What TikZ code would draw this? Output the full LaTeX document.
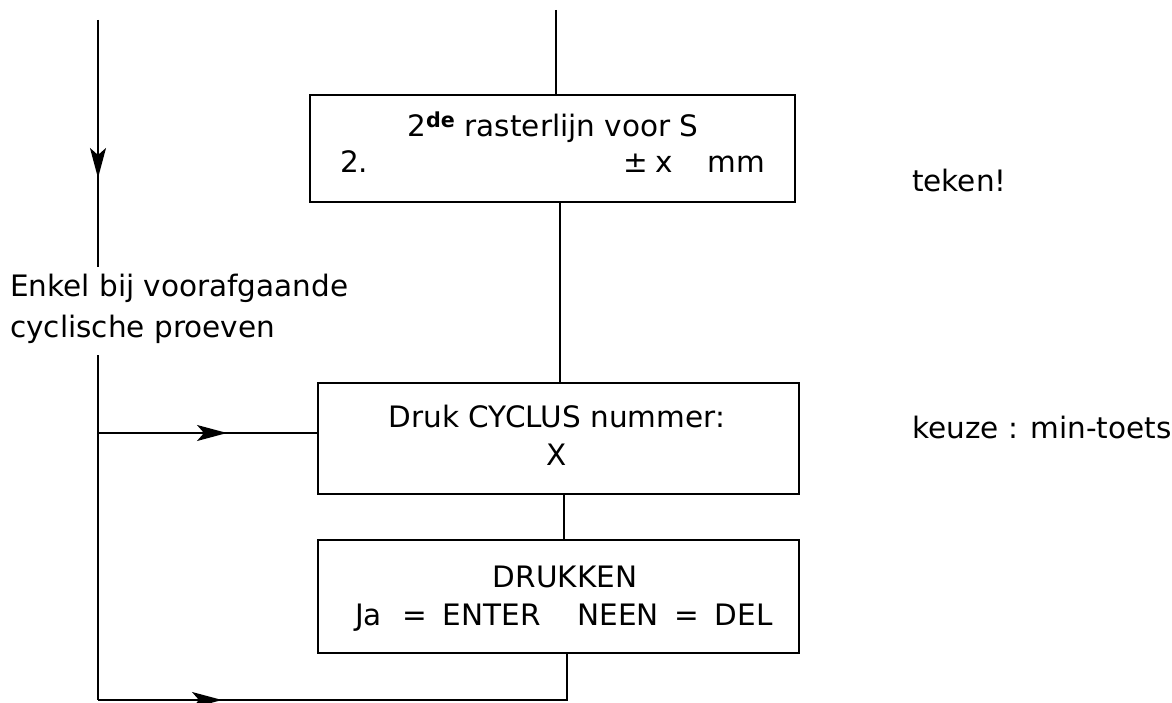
\documentclass[tikz,border=0pt]{standalone}
\usepackage{fontspec}
\setmainfont{DejaVu Sans}
\usetikzlibrary{arrows.meta,decorations.markings}
\begin{document}
\begin{tikzpicture}[x=1pt,y=-1pt,
  box/.style={draw, line width=2pt, inner sep=0pt},
  conn/.style={line width=1.5pt},
  txt/.style={inner sep=0pt, font=\fontsize{29.5}{34}\selectfont},
  midarrow/.style={postaction={decorate,decoration={markings,
      mark=at position #1 with {\arrow{Stealth[length=30pt,width=16pt,inset=7pt]}}}}}
]
\useasboundingbox (0,0) rectangle (1172,703);
\fill[white] (0,0) rectangle (1172,703);

% boxes
\node[box, minimum width=485pt, minimum height=107pt] (b1) at (552.5,148.5) {};
\node[box, minimum width=481pt, minimum height=111pt] (b2) at (558.5,438) {};
\node[box, minimum width=481pt, minimum height=113pt] (b3) at (558.5,596.5) {};

% texts in boxes
\node[txt, anchor=base] (t1a) at (553,137) {2\textsuperscript{\bfseries de} rasterlijn voor S};
\node[txt, anchor=base west] (t1b) at (340,173) {2.};
\node[txt, anchor=base east] (t1c) at (765,173) {±\hspace{8pt}x\hspace{34pt}mm};
\node[txt, anchor=base] (t2a) at (557,427) {Druk CYCLUS nummer:};
\node[txt, anchor=base] (t2b) at (557,465) {X};
\node[txt, anchor=base] (t3a) at (565,587) {DRUKKEN};
\node[txt, anchor=base west] (t3b) at (355,625) {Ja\hspace{21pt}=\hspace{15pt}ENTER\hspace{37pt}NEEN\hspace{15pt}=\hspace{16pt}DEL};

% side texts
\node[txt, anchor=base west] (enkel) at (10,297) {Enkel bij voorafgaande};
\node[txt, anchor=base west] (cycl) at (10,337) {cyclische proeven};
\node[txt, anchor=base west] (teken) at (912,192) {teken!};
\node[txt, anchor=base west] (keuze) at (912,438) {keuze : min-toets};

% coordinates
\coordinate (top) at (556,10);
\coordinate (ltop) at (98,20);
\coordinate (lbreak1) at (98,267);
\coordinate (lbreak2) at (98,355);
\coordinate (lmid) at (98,433);
\coordinate (lbot) at (98,700);
\coordinate (rbot) at (567,700);

% connectors
\draw[conn] (top) -- (top |- b1.north);
\draw[conn] (b1.south -| 560,0) -- (b2.north -| 560,0);
\draw[conn] (b2.south -| 564,0) -- (b3.north -| 564,0);
\draw[conn, midarrow=158pt] (ltop) -- (lbreak1);
\draw[conn] (lbreak2) -- (lbot);
\draw[conn, midarrow=129pt] (lmid) -- (lmid -| b2.west);
\draw[conn, midarrow=124pt] (lbot) -- (rbot) -- (rbot |- b3.south);
\end{tikzpicture}
\end{document}
